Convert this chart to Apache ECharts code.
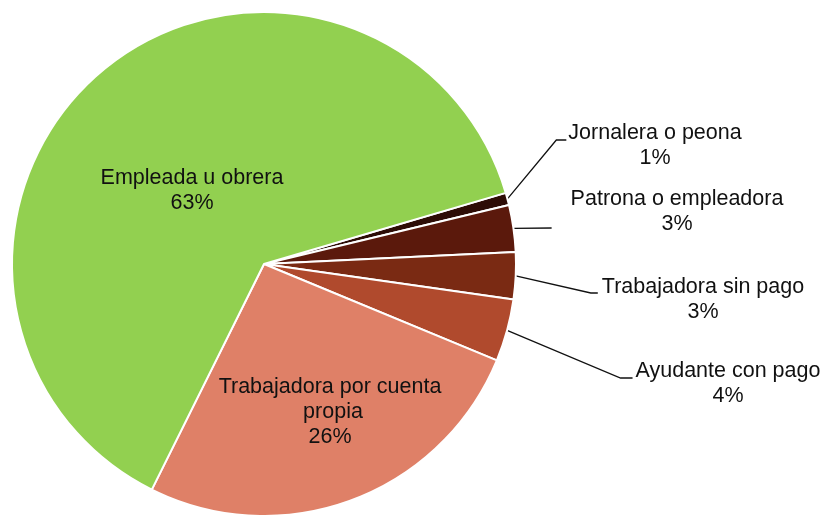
<!DOCTYPE html>
<html>
<head>
<meta charset="utf-8">
<script src="https://cdn.jsdelivr.net/npm/echarts@6/dist/echarts.min.js"></script>
<style>
    html, body { margin: 0; padding: 0; background: #fff; }
    #chart { width: 823px; height: 515px; }
</style>
</head>
<body>
<div id="chart"></div>
<script>
// categorias y valores (porcentaje)
const categories = [
    'Jornalera o peona',
    'Patrona o empleadora',
    'Trabajadora sin pago',
    'Ayudante con pago',
    'Trabajadora por cuenta propia',
    'Empleada u obrera'
];
const values = [0.8, 3.0, 3.0, 4.0, 26.1, 63.1];
const colors = ['#2d0c06', '#5b190c', '#7a2a13', '#b04a2d', '#df8067', '#92d050'];

// posicion de etiquetas (centro) y ajuste de la linea guia
const labelPos = [[655, 146], [677, 212], [703, 300], [728, 384], [330, 412], [192, 191]];
const lineEnd = [[-2, -6, 10], [-19, 16, 0], [-4, -7, 7], [-3, -6, 12], null, null];

const myChart = echarts.init(document.getElementById('chart'));

const data = categories.map((name, i) => {
    const outside = lineEnd[i] !== null;
    return {
        name: name,
        value: values[i],
        itemStyle: { color: colors[i] },
        label: {
            position: outside ? 'outside' : 'inside',
            width: i === 4 ? 225 : undefined,
            overflow: i === 4 ? 'break' : 'none'
        },
        labelLine: { show: outside }
    };
});

const option = {
    animation: false,
    series: [
        {
            type: 'pie',
            center: [264, 264],
            radius: 252,
            startAngle: 16.4,
            clockwise: true,
            percentPrecision: 0,
            data: data,
            itemStyle: {
                borderColor: '#fff',
                borderWidth: 2
            },
            label: {
                formatter: '{b}\n{d}%',
                fontFamily: '"Liberation Sans", Arial, sans-serif',
                fontSize: 21.5,
                lineHeight: 25,
                color: '#111',
                align: 'center'
            },
            labelLine: {
                lineStyle: { color: '#111', width: 1.3 }
            },
            labelLayout: function (params) {
                const i = params.dataIndex;
                const p = labelPos[i];
                const res = { x: p[0], y: p[1], align: 'center', verticalAlign: 'middle' };
                const adj = lineEnd[i];
                if (adj && params.labelLinePoints) {
                    const start = params.labelLinePoints[0];
                    const left = p[0] - params.labelRect.width / 2;
                    const end = [left + adj[0], p[1] + adj[1]];
                    const bend = [end[0] - adj[2], end[1]];
                    res.labelLinePoints = [start, bend, end];
                }
                return res;
            }
        }
    ]
};

myChart.setOption(option);
</script>
</body>
</html>
